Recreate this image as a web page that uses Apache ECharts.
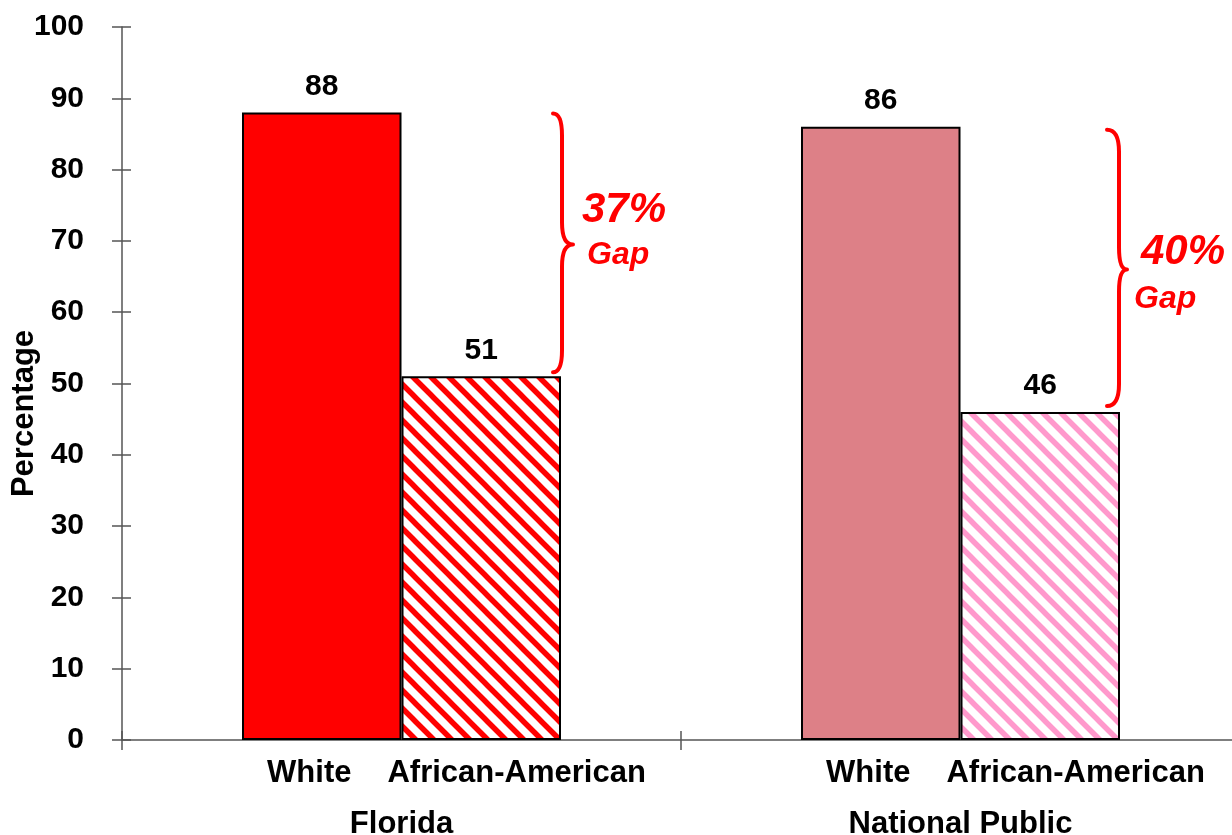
<!DOCTYPE html>
<html>
<head>
<meta charset="utf-8">
<script src="https://cdn.jsdelivr.net/npm/echarts@6/dist/echarts.min.js"></script>
<style>
html,body{margin:0;padding:0;background:#fff;}
#chart{width:1232px;height:835px;}
</style>
</head>
<body>
<div id="chart"></div>
<script>
// ---- data ----
const categories = ['Florida', 'National Public'];
const seriesNames = ['White', 'African-American'];
const whiteValues = [88, 86];
const africanAmericanValues = [51, 46];
const gapLabels = ['37%', '40%'];
const gapWord = 'Gap';
const yAxisName = 'Percentage';
const yMin = 0, yMax = 100, yInterval = 10;

// ---- styles ----
const FONT = '"Liberation Sans", Arial, sans-serif';
const whiteColors = ['#FF0000', '#DD8087'];
const stripeColors = ['#FF0000', '#FF99CC'];
const BAR_W = 159.5;
const annoLayout = [
  {x0: -8, xv: 1, tip: 12, top: 1, bot: -4, pct: [21, -34], gap: [26, 11]},
  {x0: -13, xv: -1, tip: 7, top: 3, bot: -6, pct: [21, -17], gap: [14, 29.5]}
];

function stripes(color) {
  const T = 18;
  const c = document.createElement('canvas');
  c.width = T; c.height = T;
  const g = c.getContext('2d');
  g.fillStyle = '#fff';
  g.fillRect(0, 0, T, T);
  g.strokeStyle = color;
  g.lineWidth = 5.5;
  g.beginPath();
  for (const k of [-1, 0, 1]) {
    g.moveTo(-T, -T + k * T);
    g.lineTo(2 * T, 2 * T + k * T);
  }
  g.stroke();
  return c;
}

const chart = echarts.init(document.getElementById('chart'));
const braceData = categories.map((c, i) => [i, whiteValues[i], africanAmericanValues[i]]);

const option = {
  animation: false,
  backgroundColor: '#fff',
  grid: {left: 122, top: 27, bottom: 95, right: -8, containLabel: false, outerBoundsMode: 'none'},
  xAxis: [
    {
      type: 'category', data: categories, position: 'bottom',
      axisLine: {lineStyle: {color: '#555', width: 1.5}},
      axisTick: {show: true, length: 10, lineStyle: {color: '#555', width: 1.5}},
      axisLabel: {
        interval: 0, margin: 18,
        formatter: function () { return '{s| }{w|' + seriesNames[0] + '}{g| }{a|' + seriesNames[1] + '}'; },
        rich: {
          s: {width: 110, fontSize: 31},
          g: {width: 36, fontSize: 31},
          w: {fontSize: 31, fontWeight: 'bold', fontFamily: FONT, color: '#000'},
          a: {fontSize: 31, fontWeight: 'bold', fontFamily: FONT, color: '#000'}
        }
      }
    },
    {
      type: 'category', data: categories, position: 'bottom',
      axisLine: {show: false},
      axisTick: {show: true, inside: true, length: 9, lineStyle: {color: '#555', width: 1.5}},
      axisLabel: {interval: 0, margin: 69, fontSize: 31, fontWeight: 'bold', fontFamily: FONT, color: '#000'}
    }
  ],
  yAxis: [
    {
      type: 'value', min: yMin, max: yMax, interval: yInterval,
      name: yAxisName, nameLocation: 'middle', nameGap: 82, nameMoveOverlap: false,
      nameTextStyle: {fontSize: 31, fontWeight: 'bold', fontFamily: FONT, color: '#000', padding: [0, 60, 0, 0]},
      splitLine: {show: false},
      axisLine: {show: true, lineStyle: {color: '#555', width: 1.5}},
      axisTick: {show: true, length: 10, lineStyle: {color: '#555', width: 1.5}},
      axisLabel: {margin: 38, fontSize: 30, fontWeight: 'bold', fontFamily: FONT, color: '#000'}
    },
    {
      type: 'value', min: yMin, max: yMax, interval: yInterval, position: 'left',
      splitLine: {show: false},
      axisLine: {show: false},
      axisTick: {show: true, inside: true, length: 9, lineStyle: {color: '#555', width: 1.5}},
      axisLabel: {show: false}
    }
  ],
  series: [
    {
      type: 'bar', name: seriesNames[0], xAxisIndex: 0, yAxisIndex: 0,
      barWidth: BAR_W, barGap: '0%',
      data: whiteValues.map((v, i) => ({value: v, itemStyle: {color: whiteColors[i]}})),
      itemStyle: {borderColor: '#000', borderWidth: 2},
      label: {show: true, position: 'top', distance: 11, fontSize: 30, fontWeight: 'bold', fontFamily: FONT, color: '#000'}
    },
    {
      type: 'bar', name: seriesNames[1], xAxisIndex: 0, yAxisIndex: 0,
      barWidth: BAR_W, barGap: '0%',
      data: africanAmericanValues.map((v, i) => ({value: v, itemStyle: {color: {image: stripes(stripeColors[i]), repeat: 'repeat'}}})),
      itemStyle: {borderColor: '#000', borderWidth: 2},
      label: {show: true, position: 'top', distance: 11, fontSize: 30, fontWeight: 'bold', fontFamily: FONT, color: '#000'}
    },
    {
      type: 'custom', xAxisIndex: 0, yAxisIndex: 0, z: 5, clip: false,
      data: braceData,
      renderItem: function (params, api) {
        const i = params.dataIndex;
        const L = annoLayout[i];
        const cat = api.value(0);
        const pHi = api.coord([cat, api.value(1)]);
        const pLo = api.coord([cat, api.value(2)]);
        const right = pHi[0] + BAR_W;
        const x0 = right + L.x0, xv = right + L.xv, xt = right + L.tip;
        const yT = pHi[1] + L.top, yB = pLo[1] + L.bot;
        const ym = (pHi[1] + pLo[1]) / 2;
        const r = 22;
        const d = 'M' + x0 + ',' + yT +
          ' Q' + xv + ',' + yT + ' ' + xv + ',' + (yT + r) +
          ' L' + xv + ',' + (ym - r) +
          ' Q' + xv + ',' + ym + ' ' + xt + ',' + ym +
          ' Q' + xv + ',' + ym + ' ' + xv + ',' + (ym + r) +
          ' L' + xv + ',' + (yB - r) +
          ' Q' + xv + ',' + yB + ' ' + x0 + ',' + yB;
        return {
          type: 'group',
          children: [
            {type: 'path', shape: {pathData: d}, style: {fill: null, stroke: '#FF0000', lineWidth: 4, lineCap: 'round', lineJoin: 'round'}},
            {type: 'text', x: right + L.pct[0], y: ym + L.pct[1],
              style: {text: gapLabels[i], fill: '#FF0000', font: 'italic bold 42px ' + FONT, align: 'left', verticalAlign: 'middle'}},
            {type: 'text', x: right + L.gap[0], y: ym + L.gap[1],
              style: {text: gapWord, fill: '#FF0000', font: 'italic bold 32px ' + FONT, align: 'left', verticalAlign: 'middle'}}
          ]
        };
      }
    }
  ]
};
chart.setOption(option);
</script>
</body>
</html>
